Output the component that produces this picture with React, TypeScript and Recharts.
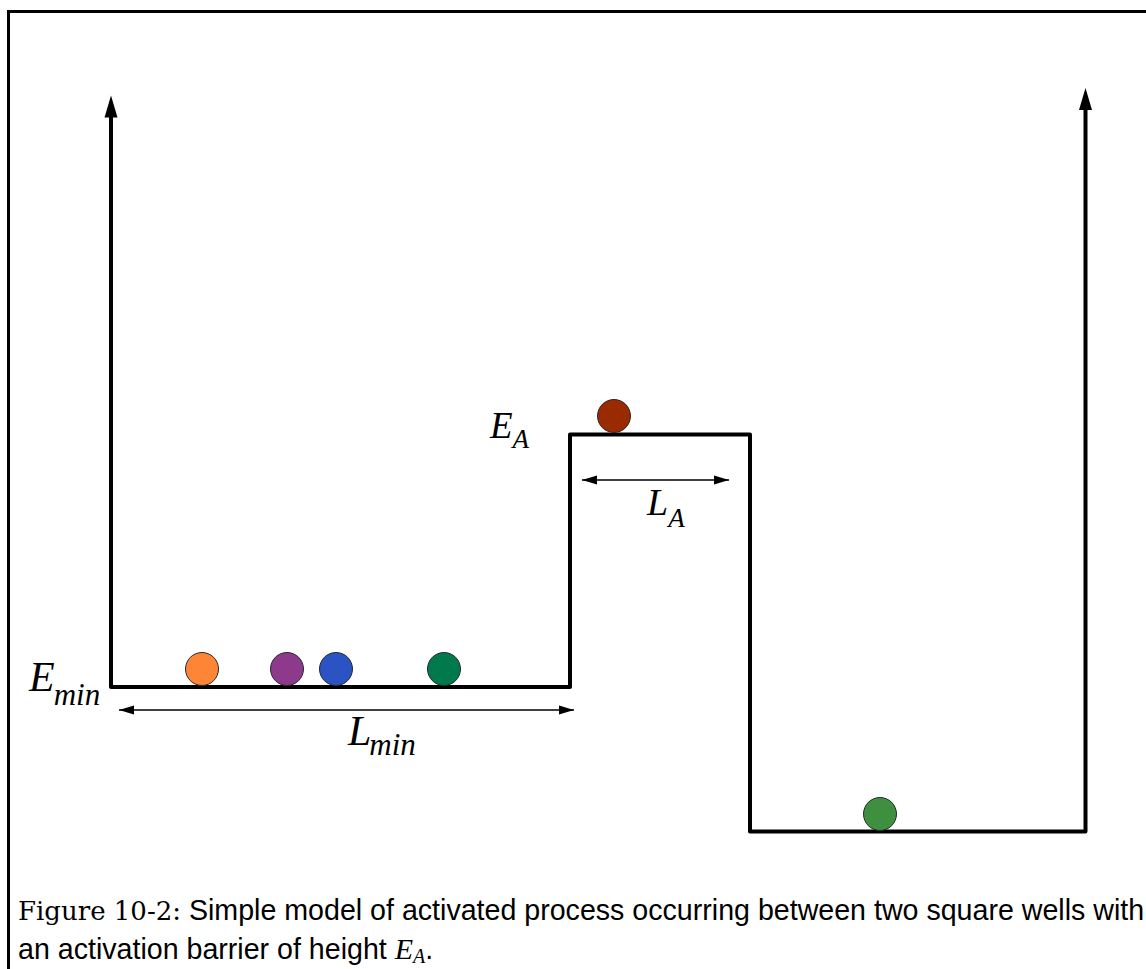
import React from 'react'
import { ComposedChart, Line, Scatter, XAxis, YAxis, Cell } from 'recharts'

// position along the coordinate (arbitrary length units), energy with E_min = 0
const wellProfile = [
  { x: 0, e: 5.71 },
  { x: 0, e: 0 },
  { x: 4.59, e: 0 },
  { x: 4.59, e: 2.525 },
  { x: 6.39, e: 2.525 },
  { x: 6.39, e: -1.445 },
  { x: 9.745, e: -1.445 },
  { x: 9.745, e: 5.78 },
]

const wallTips = [
  { x: 0, e: 5.915, dir: 'up' },
  { x: 9.745, e: 5.99, dir: 'up' },
]

const lMinSpan = [
  { x: 0.08, e: -0.23 },
  { x: 4.63, e: -0.23 },
]

const lASpan = [
  { x: 4.71, e: 2.07 },
  { x: 6.18, e: 2.07 },
]

const spanTips = [
  { x: 0.08, e: -0.23, dir: 'left' },
  { x: 4.63, e: -0.23, dir: 'right' },
  { x: 4.71, e: 2.07, dir: 'left' },
  { x: 6.18, e: 2.07, dir: 'right' },
]

const particles = [
  { x: 0.91, e: 0.18 },
  { x: 1.76, e: 0.18 },
  { x: 2.25, e: 0.18 },
  { x: 3.33, e: 0.18 },
  { x: 5.03, e: 2.71 },
  { x: 7.69, e: -1.27 },
]

const PARTICLE_COLORS = ['#ff8536', '#8d3a8d', '#2b53c4', '#007a4d', '#9a2b00', '#3f8f40']

const labels = [
  { x: -0.82, e: -0.04, main: 'E', sub: 'min', size: 42, subSize: 31, dx: -1, dy: 14 },
  { x: 3.79, e: 2.49, main: 'E', sub: 'A', size: 37, subSize: 27, dx: 0, dy: 10 },
  { x: 2.37, e: -0.58, main: 'L', sub: 'min', size: 42, subSize: 31, dx: -2, dy: 10 },
  { x: 5.36, e: 1.72, main: 'L', sub: 'A', size: 38, subSize: 27, dx: 0, dy: 12 },
]

const W = 1146
const H = 969

const Arrowhead = (props: any) => {
  const { cx, cy, payload } = props
  if (cx == null || cy == null) return null
  let pts = ''
  if (payload.dir === 'up') {
    pts = `${cx},${cy} ${cx - 6.5},${cy + 22} ${cx + 6.5},${cy + 22}`
  } else if (payload.dir === 'left') {
    pts = `${cx},${cy} ${cx + 15},${cy - 4.5} ${cx + 15},${cy + 4.5}`
  } else {
    pts = `${cx},${cy} ${cx - 15},${cy - 4.5} ${cx - 15},${cy + 4.5}`
  }
  return <polygon points={pts} fill="#000" />
}

const Ball = (props: any) => {
  const { cx, cy, fill } = props
  if (cx == null || cy == null) return null
  return <circle cx={cx} cy={cy} r={16.5} fill={fill} stroke="#2a2a2a" strokeWidth={1} />
}

const MathLabel = (props: any) => {
  const { cx, cy, payload } = props
  if (cx == null || cy == null) return null
  return (
    <text x={cx} y={cy} fontFamily='"Liberation Serif", "Times New Roman", serif' fontStyle="italic" fontSize={payload.size} fill="#000">
      {payload.main}
      <tspan dx={payload.dx} dy={payload.dy} fontSize={payload.subSize}>{payload.sub}</tspan>
    </text>
  )
}

export default function App() {
  return (
    <div style={{ position: 'fixed', left: 0, top: 0, width: W, height: H, overflow: 'hidden', background: '#fff' }}>
      <div
        style={{
          position: 'absolute',
          left: 7,
          top: 10,
          width: W + 40,
          height: H + 40,
          border: '3px solid #000',
          boxSizing: 'border-box',
        }}
      />
      <div style={{ position: 'absolute', left: 0, top: 0 }}>
        <ComposedChart width={W} height={H} margin={{ top: 0, right: 0, bottom: 0, left: 0 }}>
          <XAxis type="number" dataKey="x" domain={[-1.11, 10.35]} hide allowDataOverflow />
          <YAxis type="number" dataKey="e" domain={[-2.82, 6.87]} hide allowDataOverflow />
          <Line
            data={wellProfile}
            dataKey="e"
            type="linear"
            stroke="#000"
            strokeWidth={4}
            strokeLinejoin="round"
            dot={false}
            activeDot={false}
            isAnimationActive={false}
          />
          <Line data={lMinSpan} dataKey="e" type="linear" stroke="#000" strokeWidth={1.3} dot={false} activeDot={false} isAnimationActive={false} />
          <Line data={lASpan} dataKey="e" type="linear" stroke="#000" strokeWidth={1.3} dot={false} activeDot={false} isAnimationActive={false} />
          <Scatter data={wallTips} shape={Arrowhead} isAnimationActive={false} />
          <Scatter data={spanTips} shape={Arrowhead} isAnimationActive={false} />
          <Scatter data={particles} shape={Ball} isAnimationActive={false}>
            {particles.map((_p, i) => (
              <Cell key={`ball-${i}`} fill={PARTICLE_COLORS[i % PARTICLE_COLORS.length]} />
            ))}
          </Scatter>
          <Scatter data={labels} shape={MathLabel} isAnimationActive={false} />
        </ComposedChart>
      </div>
      <div
        style={{
          position: 'absolute',
          left: 18,
          top: 891,
          fontSize: 28.6,
          lineHeight: '38px',
          whiteSpace: 'nowrap',
          fontFamily: '"Liberation Sans", "DejaVu Sans", sans-serif',
          color: '#000',
        }}
      >
        <span style={{ fontFamily: '"DejaVu Serif", serif', fontSize: 26 }}>Figure 10-2:</span> Simple model of activated process occurring between two square wells with
        <br />
        an activation barrier of height{' '}
        <span style={{ fontFamily: '"Liberation Serif", serif', fontStyle: 'italic', fontSize: 30 }}>
          E<span style={{ fontSize: 20, position: 'relative', top: 4 }}>A</span>
        </span>
        .
      </div>
    </div>
  )
}
